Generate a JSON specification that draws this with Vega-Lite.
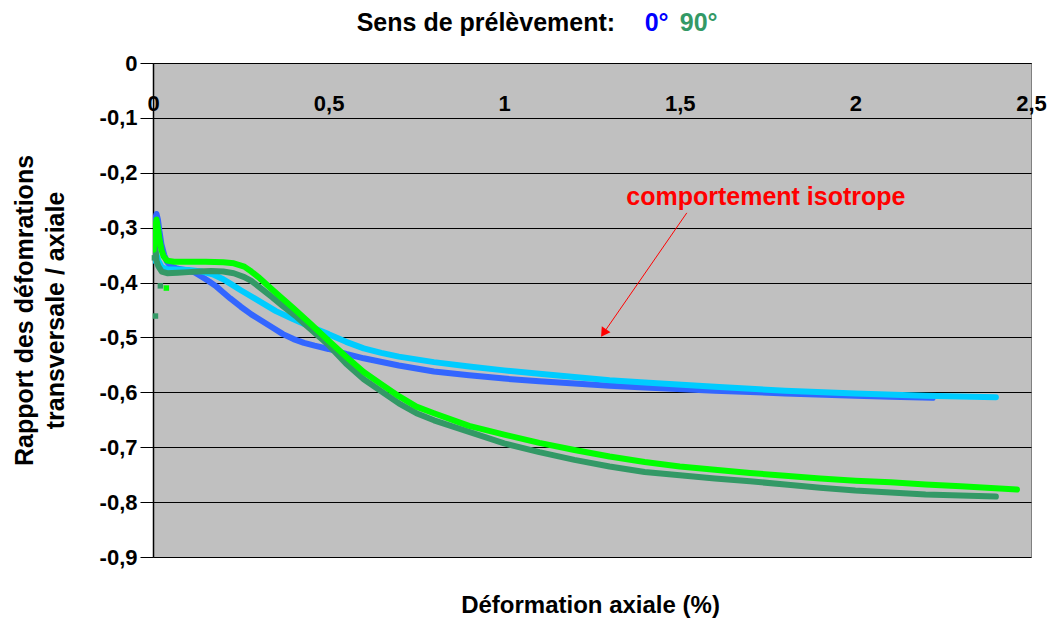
{
  "$schema": "https://vega.github.io/schema/vega-lite/v6.json",
  "width": 878,
  "height": 494,
  "autosize": "none",
  "padding": {"left": 153, "top": 63, "right": 20, "bottom": 61},
  "background": "white",
  "config": {
    "font": "Liberation Sans",
    "view": {"fill": "#C0C0C0", "stroke": "#808080", "strokeWidth": 1}
  },
  "datasets": {
    "curves": [
      {"s": "0°-1", "x": 0.002, "y": -0.33}, {"s": "0°-1", "x": 0.006, "y": -0.285}, {"s": "0°-1", "x": 0.01, "y": -0.275}, {"s": "0°-1", "x": 0.014, "y": -0.285}, {"s": "0°-1", "x": 0.018, "y": -0.305}, {"s": "0°-1", "x": 0.024, "y": -0.33}, {"s": "0°-1", "x": 0.032, "y": -0.35}, {"s": "0°-1", "x": 0.04, "y": -0.362}, {"s": "0°-1", "x": 0.05, "y": -0.37}, {"s": "0°-1", "x": 0.07, "y": -0.375}, {"s": "0°-1", "x": 0.1, "y": -0.378}, {"s": "0°-1", "x": 0.12, "y": -0.382}, {"s": "0°-1", "x": 0.14, "y": -0.39}, {"s": "0°-1", "x": 0.16, "y": -0.398}, {"s": "0°-1", "x": 0.18, "y": -0.407}, {"s": "0°-1", "x": 0.2, "y": -0.418}, {"s": "0°-1", "x": 0.22, "y": -0.429}, {"s": "0°-1", "x": 0.25, "y": -0.444}, {"s": "0°-1", "x": 0.28, "y": -0.458}, {"s": "0°-1", "x": 0.3, "y": -0.466}, {"s": "0°-1", "x": 0.34, "y": -0.482}, {"s": "0°-1", "x": 0.37, "y": -0.494}, {"s": "0°-1", "x": 0.4, "y": -0.503}, {"s": "0°-1", "x": 0.43, "y": -0.51}, {"s": "0°-1", "x": 0.46, "y": -0.515}, {"s": "0°-1", "x": 0.5, "y": -0.521}, {"s": "0°-1", "x": 0.55, "y": -0.53}, {"s": "0°-1", "x": 0.6, "y": -0.538}, {"s": "0°-1", "x": 0.7, "y": -0.551}, {"s": "0°-1", "x": 0.8, "y": -0.562}, {"s": "0°-1", "x": 0.9, "y": -0.569}, {"s": "0°-1", "x": 1.0, "y": -0.575}, {"s": "0°-1", "x": 1.1, "y": -0.58}, {"s": "0°-1", "x": 1.2, "y": -0.584}, {"s": "0°-1", "x": 1.3, "y": -0.588}, {"s": "0°-1", "x": 1.4, "y": -0.591}, {"s": "0°-1", "x": 1.6, "y": -0.597}, {"s": "0°-1", "x": 1.8, "y": -0.602}, {"s": "0°-1", "x": 2.0, "y": -0.606}, {"s": "0°-1", "x": 2.1, "y": -0.608}, {"s": "0°-1", "x": 2.22, "y": -0.61},

      {"s": "0°-2", "x": 0.002, "y": -0.36}, {"s": "0°-2", "x": 0.008, "y": -0.345}, {"s": "0°-2", "x": 0.015, "y": -0.36}, {"s": "0°-2", "x": 0.025, "y": -0.372}, {"s": "0°-2", "x": 0.04, "y": -0.376}, {"s": "0°-2", "x": 0.06, "y": -0.376}, {"s": "0°-2", "x": 0.1, "y": -0.377}, {"s": "0°-2", "x": 0.14, "y": -0.38}, {"s": "0°-2", "x": 0.17, "y": -0.385}, {"s": "0°-2", "x": 0.2, "y": -0.394}, {"s": "0°-2", "x": 0.22, "y": -0.402}, {"s": "0°-2", "x": 0.25, "y": -0.414}, {"s": "0°-2", "x": 0.3, "y": -0.433}, {"s": "0°-2", "x": 0.35, "y": -0.452}, {"s": "0°-2", "x": 0.4, "y": -0.467}, {"s": "0°-2", "x": 0.45, "y": -0.481}, {"s": "0°-2", "x": 0.5, "y": -0.494}, {"s": "0°-2", "x": 0.55, "y": -0.508}, {"s": "0°-2", "x": 0.6, "y": -0.52}, {"s": "0°-2", "x": 0.65, "y": -0.528}, {"s": "0°-2", "x": 0.7, "y": -0.535}, {"s": "0°-2", "x": 0.8, "y": -0.545}, {"s": "0°-2", "x": 0.9, "y": -0.553}, {"s": "0°-2", "x": 1.0, "y": -0.56}, {"s": "0°-2", "x": 1.1, "y": -0.566}, {"s": "0°-2", "x": 1.2, "y": -0.572}, {"s": "0°-2", "x": 1.3, "y": -0.578}, {"s": "0°-2", "x": 1.4, "y": -0.582}, {"s": "0°-2", "x": 1.6, "y": -0.59}, {"s": "0°-2", "x": 1.8, "y": -0.597}, {"s": "0°-2", "x": 2.0, "y": -0.602}, {"s": "0°-2", "x": 2.2, "y": -0.606}, {"s": "0°-2", "x": 2.4, "y": -0.609},

      {"s": "90°-1", "x": 0.002, "y": -0.35}, {"s": "90°-1", "x": 0.006, "y": -0.33}, {"s": "90°-1", "x": 0.01, "y": -0.36}, {"s": "90°-1", "x": 0.015, "y": -0.37}, {"s": "90°-1", "x": 0.025, "y": -0.38}, {"s": "90°-1", "x": 0.04, "y": -0.383}, {"s": "90°-1", "x": 0.07, "y": -0.382}, {"s": "90°-1", "x": 0.1, "y": -0.381}, {"s": "90°-1", "x": 0.13, "y": -0.38}, {"s": "90°-1", "x": 0.166, "y": -0.379}, {"s": "90°-1", "x": 0.2, "y": -0.38}, {"s": "90°-1", "x": 0.23, "y": -0.383}, {"s": "90°-1", "x": 0.26, "y": -0.39}, {"s": "90°-1", "x": 0.28, "y": -0.397}, {"s": "90°-1", "x": 0.3, "y": -0.407}, {"s": "90°-1", "x": 0.34, "y": -0.427}, {"s": "90°-1", "x": 0.37, "y": -0.443}, {"s": "90°-1", "x": 0.41, "y": -0.463}, {"s": "90°-1", "x": 0.44, "y": -0.48}, {"s": "90°-1", "x": 0.47, "y": -0.497}, {"s": "90°-1", "x": 0.5, "y": -0.514}, {"s": "90°-1", "x": 0.55, "y": -0.548}, {"s": "90°-1", "x": 0.6, "y": -0.576}, {"s": "90°-1", "x": 0.65, "y": -0.598}, {"s": "90°-1", "x": 0.7, "y": -0.62}, {"s": "90°-1", "x": 0.75, "y": -0.638}, {"s": "90°-1", "x": 0.8, "y": -0.651}, {"s": "90°-1", "x": 0.9, "y": -0.672}, {"s": "90°-1", "x": 1.0, "y": -0.693}, {"s": "90°-1", "x": 1.1, "y": -0.709}, {"s": "90°-1", "x": 1.2, "y": -0.723}, {"s": "90°-1", "x": 1.3, "y": -0.735}, {"s": "90°-1", "x": 1.4, "y": -0.745}, {"s": "90°-1", "x": 1.5, "y": -0.751}, {"s": "90°-1", "x": 1.6, "y": -0.757}, {"s": "90°-1", "x": 1.7, "y": -0.762}, {"s": "90°-1", "x": 1.8, "y": -0.768}, {"s": "90°-1", "x": 1.9, "y": -0.774}, {"s": "90°-1", "x": 2.0, "y": -0.779}, {"s": "90°-1", "x": 2.2, "y": -0.786}, {"s": "90°-1", "x": 2.4, "y": -0.79},

      {"s": "90°-2", "x": 0.002, "y": -0.34}, {"s": "90°-2", "x": 0.006, "y": -0.3}, {"s": "90°-2", "x": 0.01, "y": -0.285}, {"s": "90°-2", "x": 0.014, "y": -0.3}, {"s": "90°-2", "x": 0.018, "y": -0.32}, {"s": "90°-2", "x": 0.024, "y": -0.34}, {"s": "90°-2", "x": 0.03, "y": -0.352}, {"s": "90°-2", "x": 0.04, "y": -0.36}, {"s": "90°-2", "x": 0.06, "y": -0.362}, {"s": "90°-2", "x": 0.1, "y": -0.362}, {"s": "90°-2", "x": 0.15, "y": -0.362}, {"s": "90°-2", "x": 0.2, "y": -0.363}, {"s": "90°-2", "x": 0.23, "y": -0.365}, {"s": "90°-2", "x": 0.26, "y": -0.371}, {"s": "90°-2", "x": 0.28, "y": -0.38}, {"s": "90°-2", "x": 0.3, "y": -0.39}, {"s": "90°-2", "x": 0.34, "y": -0.413}, {"s": "90°-2", "x": 0.37, "y": -0.43}, {"s": "90°-2", "x": 0.4, "y": -0.447}, {"s": "90°-2", "x": 0.45, "y": -0.476}, {"s": "90°-2", "x": 0.5, "y": -0.506}, {"s": "90°-2", "x": 0.55, "y": -0.535}, {"s": "90°-2", "x": 0.6, "y": -0.563}, {"s": "90°-2", "x": 0.65, "y": -0.585}, {"s": "90°-2", "x": 0.7, "y": -0.607}, {"s": "90°-2", "x": 0.75, "y": -0.626}, {"s": "90°-2", "x": 0.8, "y": -0.638}, {"s": "90°-2", "x": 0.9, "y": -0.661}, {"s": "90°-2", "x": 1.0, "y": -0.677}, {"s": "90°-2", "x": 1.1, "y": -0.692}, {"s": "90°-2", "x": 1.2, "y": -0.705}, {"s": "90°-2", "x": 1.3, "y": -0.717}, {"s": "90°-2", "x": 1.4, "y": -0.727}, {"s": "90°-2", "x": 1.5, "y": -0.735}, {"s": "90°-2", "x": 1.6, "y": -0.741}, {"s": "90°-2", "x": 1.7, "y": -0.747}, {"s": "90°-2", "x": 1.8, "y": -0.752}, {"s": "90°-2", "x": 1.9, "y": -0.757}, {"s": "90°-2", "x": 2.0, "y": -0.761}, {"s": "90°-2", "x": 2.1, "y": -0.764}, {"s": "90°-2", "x": 2.2, "y": -0.768}, {"s": "90°-2", "x": 2.3, "y": -0.771}, {"s": "90°-2", "x": 2.46, "y": -0.777}
    ],
    "scatter": [
      {"s": "90°-1", "x": 0.007, "y": -0.461},
      {"s": "90°-1", "x": 0.021, "y": -0.406},
      {"s": "90°-1", "x": 0.004, "y": -0.355},
      {"s": "90°-2", "x": 0.038, "y": -0.41},
      {"s": "90°-2", "x": 0.02, "y": -0.33}
    ],
    "arrow": [
      {"x": 1.52, "y": -0.273, "x2": 1.283, "y2": -0.492}
    ],
    "note": [
      {"txt": "comportement isotrope", "x": 1.745, "y": -0.2587}
    ],
    "heading": [
      {"txt": "Sens de prélèvement:", "part": "label", "x": 0.58, "y": 0.0583},
      {"txt": "0°", "part": "0°", "x": 1.4, "y": 0.0583},
      {"txt": "90°", "part": "90°", "x": 1.5, "y": 0.0583}
    ]
  },
  "layer": [
    {
      "data": {"name": "curves"},
      "mark": {"type": "line", "strokeWidth": 6, "strokeJoin": "round", "strokeCap": "round", "clip": true},
      "encoding": {
        "x": {
          "field": "x", "type": "quantitative",
          "scale": {"domain": [0, 2.5], "nice": false, "zero": false},
          "axis": {
            "orient": "top",
            "values": [0, 0.5, 1, 1.5, 2, 2.5],
            "labelExpr": "replace(toString(datum.value), '.', ',')",
            "grid": false,
            "ticks": false,
            "tickSize": 0,
            "domain": true,
            "domainColor": "black",
            "domainWidth": 1,
            "labelPadding": -40,
            "labelBaseline": "middle",
            "labelAlign": "center",
            "labelFont": "Liberation Sans",
            "labelFontSize": 22,
            "labelFontWeight": "bold",
            "labelColor": "black",
            "labelFlush": false,
            "labelOverlap": false,
            "labelBound": false,
            "title": "Déformation axiale (%)",
            "titleX": 437,
            "titleY": 542,
            "titleBaseline": "middle",
            "titleAlign": "center",
            "titleFont": "Liberation Sans",
            "titleFontSize": 24,
            "titleFontWeight": "bold",
            "titleColor": "black"
          }
        },
        "y": {
          "field": "y", "type": "quantitative",
          "scale": {"domain": [-0.9, 0], "nice": false, "zero": false},
          "axis": {
            "values": [0, -0.1, -0.2, -0.3, -0.4, -0.5, -0.6, -0.7, -0.8, -0.9],
            "labelExpr": "replace(toString(datum.value), '.', ',')",
            "grid": true,
            "gridColor": "black",
            "gridWidth": 1,
            "gridOpacity": 1,
            "ticks": true,
            "tickSize": 13,
            "tickColor": "black",
            "tickWidth": 1,
            "domain": true,
            "domainColor": "black",
            "domainWidth": 1.5,
            "labelPadding": 3,
            "labelFont": "Liberation Sans",
            "labelFontSize": 22,
            "labelFontWeight": "bold",
            "labelColor": "black",
            "labelBaseline": "middle",
            "labelFlush": false,
            "labelOverlap": false,
            "labelBound": false,
            "title": ["Rapport des défomrations", "transversale / axiale"],
            "titleX": -141,
            "titleY": 247,
            "titleAngle": -90,
            "titleAlign": "center",
            "titleBaseline": "top",
            "titleLineHeight": 31,
            "titleFont": "Liberation Sans",
            "titleFontSize": 25,
            "titleFontWeight": "bold",
            "titleColor": "black"
          }
        },
        "color": {
          "field": "s", "type": "nominal",
          "scale": {"domain": ["0°-1", "0°-2", "90°-1", "90°-2"], "range": ["#3366FF", "#00CCFF", "#339966", "#00FF00"]},
          "legend": null
        },
        "order": {"field": "x", "type": "quantitative"}
      }
    },
    {
      "data": {"name": "scatter"},
      "mark": {"type": "point", "shape": "square", "filled": true, "size": 30, "opacity": 1},
      "encoding": {
        "x": {"field": "x", "type": "quantitative"},
        "y": {"field": "y", "type": "quantitative"},
        "color": {"field": "s", "type": "nominal", "legend": null}
      }
    },
    {
      "mark": {"type": "rule", "color": "#FF0000", "strokeWidth": 3.5},
      "encoding": {"y": {"datum": -0.5}}
    },
    {
      "data": {"name": "arrow"},
      "mark": {"type": "rule", "color": "#FF0000", "strokeWidth": 1},
      "encoding": {
        "x": {"field": "x", "type": "quantitative"},
        "y": {"field": "y", "type": "quantitative"},
        "x2": {"field": "x2"},
        "y2": {"field": "y2"}
      }
    },
    {
      "data": {"name": "arrow"},
      "mark": {"type": "point", "shape": "triangle-up", "filled": true, "size": 110, "color": "#FF0000", "opacity": 1, "angle": 214},
      "encoding": {
        "x": {"field": "x2", "type": "quantitative"},
        "y": {"field": "y2", "type": "quantitative"}
      }
    },
    {
      "data": {"name": "note"},
      "mark": {"type": "text", "color": "#FF0000", "font": "Liberation Sans", "fontSize": 25, "fontWeight": "bold", "align": "center", "baseline": "alphabetic"},
      "encoding": {
        "x": {"field": "x", "type": "quantitative"},
        "y": {"field": "y", "type": "quantitative"},
        "text": {"field": "txt"}
      }
    },
    {
      "data": {"name": "heading"},
      "transform": [{"filter": "datum.part === 'label'"}],
      "mark": {"type": "text", "color": "black", "font": "Liberation Sans", "fontSize": 25, "fontWeight": "bold", "align": "left", "baseline": "alphabetic", "clip": false},
      "encoding": {
        "x": {"field": "x", "type": "quantitative"},
        "y": {"field": "y", "type": "quantitative"},
        "text": {"field": "txt"}
      }
    },
    {
      "data": {"name": "heading"},
      "transform": [{"filter": "datum.part === '0°'"}],
      "mark": {"type": "text", "color": "#0000FF", "font": "Liberation Sans", "fontSize": 25, "fontWeight": "bold", "align": "left", "baseline": "alphabetic", "clip": false},
      "encoding": {
        "x": {"field": "x", "type": "quantitative"},
        "y": {"field": "y", "type": "quantitative"},
        "text": {"field": "txt"}
      }
    },
    {
      "data": {"name": "heading"},
      "transform": [{"filter": "datum.part === '90°'"}],
      "mark": {"type": "text", "color": "#339966", "font": "Liberation Sans", "fontSize": 25, "fontWeight": "bold", "align": "left", "baseline": "alphabetic", "clip": false},
      "encoding": {
        "x": {"field": "x", "type": "quantitative"},
        "y": {"field": "y", "type": "quantitative"},
        "text": {"field": "txt"}
      }
    }
  ]
}
